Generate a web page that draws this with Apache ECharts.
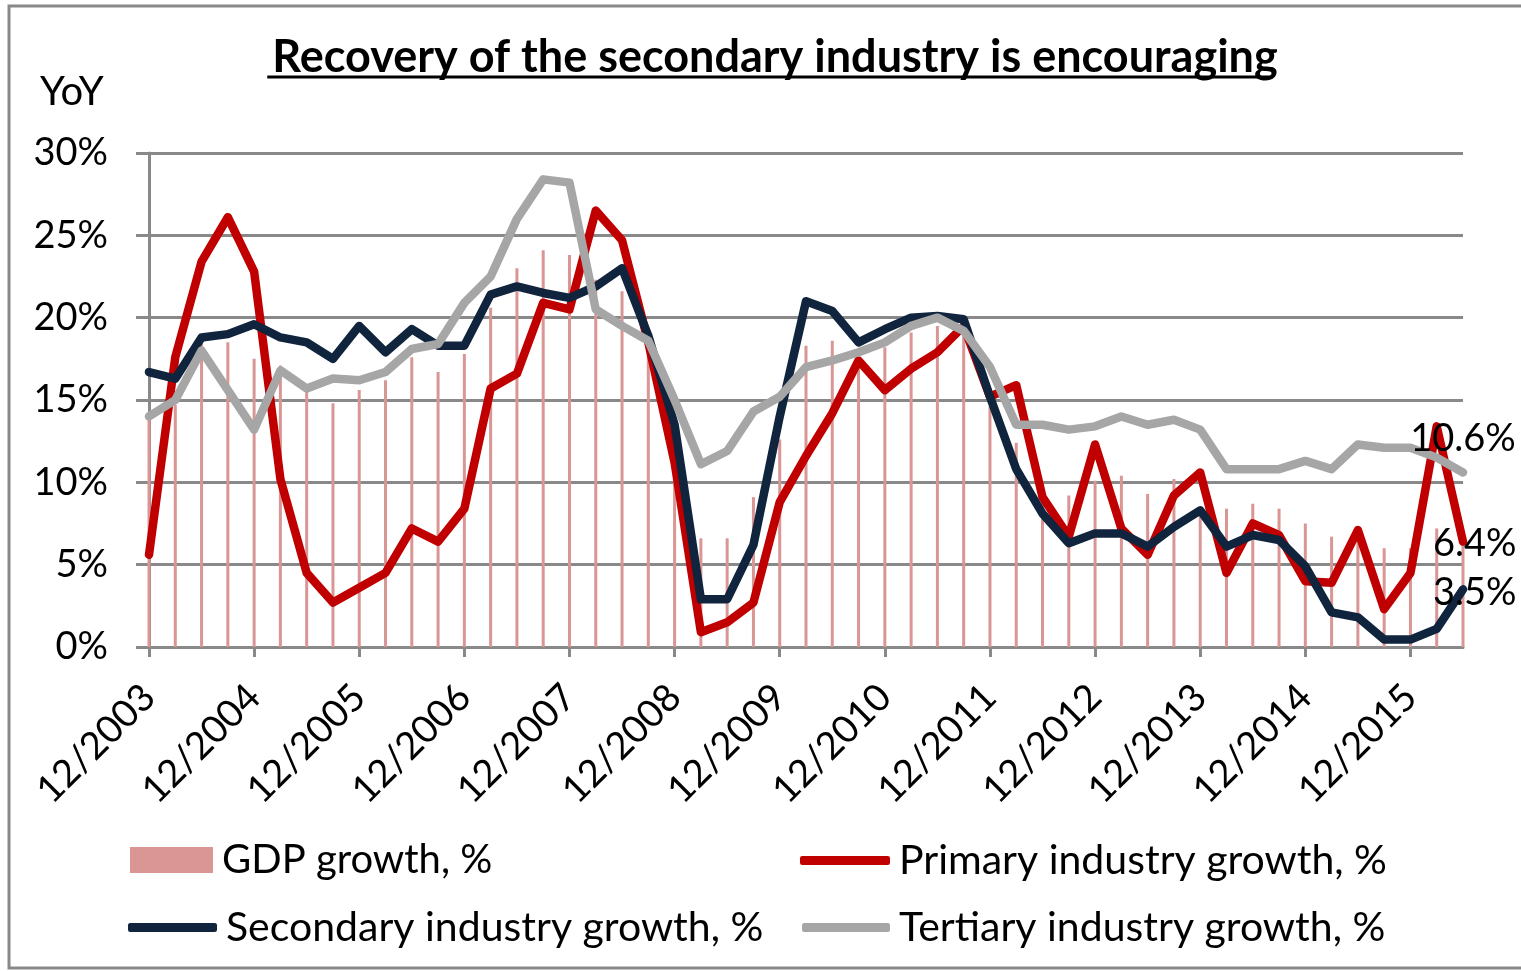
<!DOCTYPE html>
<html>
<head>
<meta charset="utf-8">
<script src="https://cdn.jsdelivr.net/npm/echarts@6/dist/echarts.min.js"></script>
<style>
  html, body { margin: 0; padding: 0; background: #fff; }
  #chart { width: 1521px; height: 971px; }
</style>
</head>
<body>
<div id="chart"></div>
<script>
  // quarterly, 12/2003 .. 6/2016
  var quarters = ['12/2003', '3/2004', '6/2004', '9/2004', '12/2004', '3/2005', '6/2005', '9/2005',
    '12/2005', '3/2006', '6/2006', '9/2006', '12/2006', '3/2007', '6/2007', '9/2007', '12/2007',
    '3/2008', '6/2008', '9/2008', '12/2008', '3/2009', '6/2009', '9/2009', '12/2009', '3/2010',
    '6/2010', '9/2010', '12/2010', '3/2011', '6/2011', '9/2011', '12/2011', '3/2012', '6/2012',
    '9/2012', '12/2012', '3/2013', '6/2013', '9/2013', '12/2013', '3/2014', '6/2014', '9/2014',
    '12/2014', '3/2015', '6/2015', '9/2015', '12/2015', '3/2016', '6/2016'];

  var gdpGrowth = [13.8, 14.7, 18.4, 18.5, 17.5, 17.1, 15.6, 14.8, 15.6, 16.2, 17.6, 16.7, 17.8,
    20.6, 23.0, 24.1, 23.8, 22.3, 21.6, 18.8, 11.7, 6.6, 6.6, 9.1, 12.6, 18.3, 18.6, 17.4, 18.2,
    19.1, 19.5, 19.1, 14.6, 12.4, 9.2, 9.2, 10.1, 10.4, 9.3, 10.2, 8.4, 8.4, 8.7, 8.4, 7.5, 6.7,
    6.5, 6.0, 6.0, 7.2, 7.0];

  var primaryGrowth = [5.6, 17.6, 23.4, 26.1, 22.8, 10.2, 4.5, 2.7, 3.6, 4.5, 7.2, 6.4, 8.4,
    15.7, 16.6, 20.9, 20.5, 26.5, 24.7, 18.5, 11.2, 0.9, 1.5, 2.7, 8.8, 11.6, 14.2, 17.4, 15.6,
    16.9, 17.9, 19.5, 15.2, 15.9, 9.1, 6.7, 12.3, 7.2, 5.6, 9.2, 10.6, 4.5, 7.5, 6.8, 4.0, 3.9,
    7.1, 2.3, 4.5, 13.4, 6.4];

  var secondaryGrowth = [16.7, 16.3, 18.8, 19.0, 19.6, 18.8, 18.5, 17.5, 19.5, 17.9, 19.3, 18.3,
    18.3, 21.4, 21.9, 21.5, 21.2, 21.9, 23.0, 18.9, 13.5, 2.9, 2.9, 6.2, 14.0, 21.0, 20.4, 18.5,
    19.3, 20.0, 20.1, 19.9, 15.2, 10.8, 8.1, 6.3, 6.9, 6.9, 6.1, 7.3, 8.3, 6.1, 6.8, 6.5, 4.9,
    2.1, 1.8, 0.45, 0.45, 1.1, 3.5];

  var tertiaryGrowth = [14.0, 15.0, 18.0, 15.6, 13.2, 16.8, 15.7, 16.3, 16.2, 16.7, 18.1, 18.4,
    20.9, 22.5, 26.0, 28.4, 28.2, 20.5, 19.5, 18.6, 15.0, 11.1, 11.9, 14.3, 15.2, 17.0, 17.4,
    17.9, 18.5, 19.5, 20.0, 19.2, 17.0, 13.5, 13.5, 13.2, 13.4, 14.0, 13.5, 13.8, 13.2, 10.8,
    10.8, 10.8, 11.3, 10.8, 12.3, 12.1, 12.1, 11.5, 10.6];

  var names = ['GDP growth, %', 'Primary industry growth, %', 'Secondary industry growth, %', 'Tertiary industry growth, %'];
  var titleText = 'Recovery of the secondary industry is encouraging';

  var FONT = 'Lato';
  var GRID_COLOR = '#898989';
  var TITLE_SIZE = 45;
  var LINE_W = 8.5;

  // width of the title, for the underline
  var cv = document.createElement('canvas').getContext('2d');
  cv.font = 'bold ' + TITLE_SIZE + 'px ' + FONT;
  var titleW = cv.measureText(titleText).width;
  var titleX = 770 - titleW / 2;

  function endLabel(extra) {
    return Object.assign({
      show: true, distance: 0, color: '#000', fontSize: 38, fontFamily: FONT,
      formatter: function (p) { return p.value + '%'; }
    }, extra);
  }

  function legendBox(name, left, top, w, h, icon, size) {
    return {
      data: [name], left: left, top: top, padding: 0,
      icon: icon, itemWidth: w, itemHeight: h,
      selectedMode: false,
      textStyle: { fontSize: size, fontFamily: FONT, color: '#000', padding: [0, 0, 0, 4] }
    };
  }

  var chart = echarts.init(document.getElementById('chart'));
  chart.setOption({
    backgroundColor: '#fff',
    animation: false,
    title: {
      text: titleText, left: titleX, top: 30,
      textStyle: { fontSize: TITLE_SIZE, fontWeight: 'bold', fontFamily: FONT, color: '#000' }
    },
    graphic: [
      { type: 'rect', shape: { x: 9, y: 6, width: 1540, height: 962 }, style: { fill: null, stroke: GRID_COLOR, lineWidth: 3 } },
      { type: 'line', shape: { x1: titleX, y1: 77, x2: titleX + titleW, y2: 77 }, style: { stroke: '#000', lineWidth: 3 } },
      { type: 'text', left: 40, top: 72, style: { text: 'YoY', fontSize: 40, fontFamily: FONT, fill: '#000' } }
    ],
    legend: [
      legendBox(names[0], 130, 840, 83, 26, 'rect', 40),
      legendBox(names[1], 800, 840, 90, 9, 'roundRect', 41),
      legendBox(names[2], 128, 907, 89, 9, 'roundRect', 41),
      legendBox(names[3], 802, 907, 88, 9, 'roundRect', 41)
    ],
    grid: { left: 149, right: 58, top: 153, bottom: 324 },
    xAxis: {
      type: 'category',
      data: quarters,
      boundaryGap: false,
      axisLine: { lineStyle: { color: GRID_COLOR, width: 3 } },
      axisTick: { interval: 3, length: 10, lineStyle: { color: GRID_COLOR, width: 3 } },
      axisLabel: { interval: 3, rotate: 45, margin: 44, fontSize: 38, fontFamily: FONT, color: '#000' }
    },
    yAxis: {
      type: 'value',
      min: 0, max: 30, interval: 5,
      axisLine: { show: true, lineStyle: { color: GRID_COLOR, width: 3 } },
      axisTick: { show: true, length: 13, lineStyle: { color: GRID_COLOR, width: 3 } },
      splitLine: { lineStyle: { color: GRID_COLOR, width: 3 } },
      axisLabel: { formatter: '{value}%', margin: 41, fontSize: 38, fontFamily: FONT, color: '#000' }
    },
    series: [
      {
        name: names[0], type: 'bar', data: gdpGrowth, barWidth: 3, clip: false,
        itemStyle: { color: '#D99694' }
      },
      {
        name: names[1], type: 'line', data: primaryGrowth,
        symbol: 'none', color: '#C00000',
        lineStyle: { width: LINE_W, color: '#C00000', cap: 'round', join: 'round' },
        endLabel: endLabel({ align: 'left', offset: [-30, 2] })
      },
      {
        name: names[2], type: 'line', data: secondaryGrowth,
        symbol: 'none', color: '#10243E',
        lineStyle: { width: LINE_W, color: '#10243E', cap: 'round', join: 'round' },
        endLabel: endLabel({ align: 'left', offset: [-30, 3] })
      },
      {
        name: names[3], type: 'line', data: tertiaryGrowth,
        symbol: 'none', color: '#A6A6A6',
        lineStyle: { width: LINE_W, color: '#A6A6A6', cap: 'round', join: 'round' },
        endLabel: endLabel({ align: 'center', offset: [0, -34] })
      }
    ]
  });
</script>
</body>
</html>
